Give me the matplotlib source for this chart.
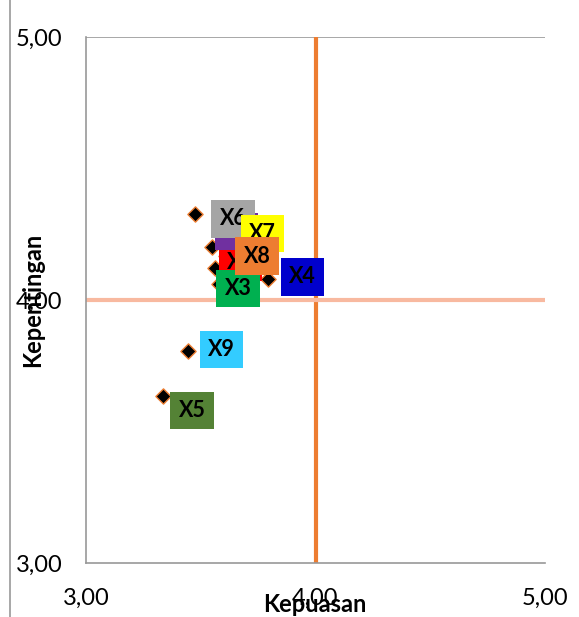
import matplotlib.pyplot as plt
from matplotlib.lines import Line2D

# satisfaction (x) vs importance (y) per attribute
labels = ["X1", "X2", "X3", "X4", "X5", "X6", "X7", "X8", "X9"]
kepuasan = [3.56, 3.55, 3.58, 3.795, 3.336, 3.475, 3.63, 3.61, 3.443]
kepentingan = [4.12, 4.20, 4.06, 4.08, 3.636, 4.327, 4.23, 4.167, 3.807]
label_colors = ["#FF0000", "#7030A0", "#00B050", "#0000CC", "#548235",
                "#A5A5A5", "#FFFF00", "#ED7D31", "#33CCFF"]
x_ticks = [3.0, 4.0, 5.0]
y_ticks = [3.0, 4.0, 5.0]
mean_x = 4.0
mean_y = 4.0

# label box offsets in pixels (right, down) from the marker
label_offsets = [(26, -6), (24, -16), (19, 4), (34, -2), (29, 15),
                 (38, 5), (32, -6), (31, 0), (34, -1)]

plt.rcParams["font.family"] = ["Lato", "DejaVu Sans"]

fig = plt.figure(figsize=(5.79, 6.17), dpi=100)
ax = fig.add_axes([86 / 579, 54 / 617, 459 / 579, 526 / 617])

ax.set_xlim(3, 5)
ax.set_ylim(3, 5)

ax.axhline(5.0, color="#989898", linewidth=1.2, zorder=1)
ax.axvline(mean_x, color="#ED7D31", linewidth=3, zorder=2)
ax.axhline(mean_y, color="#F8B9A0", linewidth=3, zorder=2)

ax.scatter(kepuasan, kepentingan, marker="D", s=60, color="black",
           edgecolors="#ED7D31", linewidths=1.0, zorder=3)

for name, xv, yv, col, (dx, dy) in zip(labels, kepuasan, kepentingan, label_colors, label_offsets):
    ax.annotate(name, (xv, yv), xytext=(dx * 0.72, -dy * 0.72), textcoords="offset points",
                ha="center", va="center", fontsize=15.5, fontweight="bold", color="black",
                bbox=dict(boxstyle="square,pad=0.38", facecolor=col, edgecolor="none"),
                zorder=4)

ax.set_xticks(x_ticks)
ax.set_yticks(y_ticks)
ax.set_xticklabels([f"{v:.2f}".replace(".", ",") for v in x_ticks], fontsize=17)
ax.set_yticklabels([f"{v:.2f}".replace(".", ",") for v in y_ticks], fontsize=17)
ax.tick_params(axis="x", length=0, pad=18)
ax.tick_params(axis="y", length=0, pad=17)

for side in ["top", "right"]:
    ax.spines[side].set_visible(False)
for side in ["left", "bottom"]:
    ax.spines[side].set_color("#989898")
    ax.spines[side].set_linewidth(1.2)

fig.text(315 / 579, 1 - 604 / 617, "Kepuasan", ha="center", va="center",
         fontsize=17, fontweight="bold")
fig.text(33 / 579, 1 - 300 / 617, "Kepentingan", ha="center", va="center",
         rotation=90, fontsize=17, fontweight="bold")

fig.add_artist(Line2D([10 / 579, 10 / 579], [0, 1], transform=fig.transFigure,
                      color="#989898", linewidth=1.2))

fig.savefig("out.png", dpi=100)
